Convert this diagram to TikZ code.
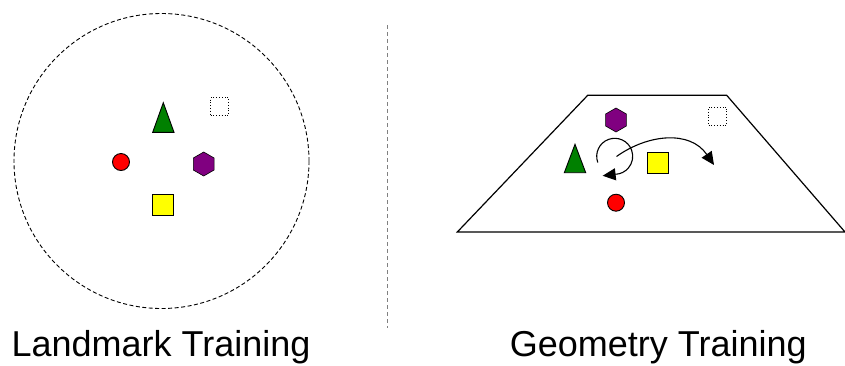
\documentclass[tikz,border=0pt]{standalone}
\usepackage{fontspec}
\setmainfont{Liberation Sans}
\usepackage{tikz}
\usetikzlibrary{positioning, arrows.meta, shapes.geometric, calc}
\usepackage{xcolor}
\definecolor{markgreen}{RGB}{0, 128, 0}
\definecolor{markpurple}{RGB}{128, 0, 128}
\definecolor{markred}{RGB}{255, 0, 0}
\definecolor{markyellow}{RGB}{255, 255, 0}

\tikzset{
    redmark/.style={circle, draw=black, fill=markred, line width=0.9pt, minimum size=17pt, inner sep=0pt},
    yellowmark/.style={rectangle, draw=black, fill=markyellow, line width=0.9pt, minimum size=21pt, inner sep=0pt},
    purplemark/.style={regular polygon, regular polygon sides=6, shape border rotate=30, draw=black, fill=markpurple, line width=0.6pt, minimum size=24pt, inner sep=0pt},
    ghostmark/.style={rectangle, draw=black, dotted, line width=0.8pt, minimum size=18pt, inner sep=0pt},
    greenmark/.style={draw=black, fill=markgreen, line width=0.9pt},
    motion/.style={-{Triangle[length=13pt, width=12pt]}, line width=1.1pt},
    caption/.style={font=\fontsize{36}{40}\selectfont, anchor=base}
}

\begin{document}
\begin{tikzpicture}[x=1pt, y=-1pt]
    \useasboundingbox (0,0) rectangle (845,365);

    % Landmark training
    \draw[dashed, line width=0.9pt, dash pattern=on 4pt off 2.5pt] (161.5,161) circle (147.5);
    \draw[greenmark] (163.3,102.7) -- (174,132.3) -- (152.7,132.3) -- cycle;
    \node[ghostmark] (lmGhost) at (219.5,106.5) {};
    \node[redmark] (lmCircle) at (121,162) {};
    \node[purplemark] (lmHex) at (203.7,164) {};
    \node[yellowmark] (lmSquare) at (163.3,205) {};
    \node[caption] (lmLabel) at (161,356.7) {Landmark Training};

    % Divider
    \draw[gray, dashed, line width=0.8pt, dash pattern=on 4pt off 3pt] (387.5,25) -- (387.5,328);

    % Geometry training
    \draw[line width=1.2pt] (587.7,95.3) -- (726.7,95.3) -- (845,232) -- (457.3,232) -- cycle;
    \draw[greenmark] (575,144.3) -- (585.7,172.7) -- (564.3,172.7) -- cycle;
    \node[ghostmark] (geoGhost) at (717.5,116) {};
    \node[purplemark] (geoHex) at (616,120) {};
    \node[yellowmark] (geoSquare) at (657.5,163) {};
    \node[redmark] (geoCircle) at (616,202.7) {};
    \coordinate (spin) at (614.7,156.3);
    \coordinate (spinStart) at ($(spin)+(160:18)$);
    \coordinate (slideStart) at (616.5,156.5);
    \coordinate (slideEnd) at (714,165);
    \draw[motion] (spinStart) arc[start angle=160, end angle=447, radius=18] -- ++(-13,1.5);
    \draw[motion] (slideStart) .. controls (648,134) and (690,130) .. (slideEnd);
    \node[caption] (geoLabel) at (658.3,356.7) {Geometry Training};
\end{tikzpicture}
\end{document}
